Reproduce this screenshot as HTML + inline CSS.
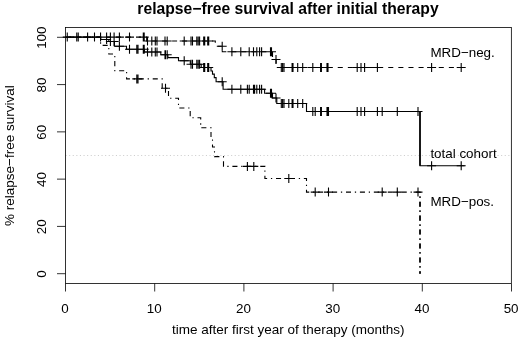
<!DOCTYPE html>
<html><head><meta charset="utf-8"><title>relapse-free survival after initial therapy</title>
<style>
html,body{margin:0;padding:0;background:#fff;}
body{width:520px;height:340px;overflow:hidden;font-family:"Liberation Sans",sans-serif;}
svg{display:block;will-change:transform;}
</style></head><body>
<svg width="520" height="340" viewBox="0 0 520 340">
<rect x="0" y="0" width="520" height="340" fill="#fff"/>
<path d="M65.5,155.5H511.5" stroke="#cfcfcf" stroke-width="1.2" stroke-dasharray="1.1,2.5" fill="none"/>
<rect x="65.55" y="27.55" width="445.8" height="255.85" fill="none" stroke="#000" stroke-width="0.8"/>
<path d="M65.5,283.5v8M154.7,283.5v8M243.9,283.5v8M333.1,283.5v8M422.3,283.5v8M511.5,283.5v8M65.5,273.7h-8.5M65.5,226.42h-8.5M65.5,179.14h-8.5M65.5,131.85999999999999h-8.5M65.5,84.57999999999998h-8.5M65.5,37.30000000000001h-8.5" stroke="#000" stroke-width="0.8" fill="none"/>
<path d="M65.5,37.1H146.7V41.0H215.3V46.3H222.3V51.75H272.5" stroke="#000" stroke-width="1.1" fill="none" stroke-dasharray="5,5" stroke-dashoffset="9.5"/>
<path d="M272.5,51.75V59.5H276.1V67.5H461.2" stroke="#000" stroke-width="1.1" fill="none" stroke-dasharray="5.05,5.05" stroke-dashoffset="9.9"/>
<path d="M65.5,37.1H100.6V45.4H108.8V54.0H114.8V70.7H126.6V78.9H162.2V88.3H168.5V98.2H178.5V108.0H190.2V117.7H200.7V127.8H211.0V137.5H212.5V147.0H214.5V156.6H223.5V166.4H264.9V178.5H306.5V192.1H420.0V273.7" stroke="#000" stroke-width="1.1" fill="none" stroke-dasharray="1.27,3.80,5.06,3.80" stroke-dashoffset="1.42"/>
<path d="M65.5,37.1H100.7V39.5H108.8V41.5H114.4V46.3H126.5V49.3H144.4V52.0H160.8V54.8H167.9V57.6H178.5V60.8H190.3V64.2H201.2V67.5H211.0V71.0H212.5V74.1H214.3V77.6H216.1V81.8H223.1V89.2H264.6V93.3H272.5V98H276.8V103.5H306.5V111.5H420.0V165.8H464.6" stroke="#000" stroke-width="1.1" fill="none"/>
<path d="M420,111.5V165.8" stroke="#000" stroke-width="1.55" fill="none"/>
<path d="M420,192.1V273.7" stroke="#000" stroke-width="1.55" fill="none" stroke-dasharray="1.27,3.80,5.06,3.80" stroke-dashoffset="9.44"/>
<path d="M62.75,37.1h9.0M67.25,32.60v9.0M72.25,37.1h9.0M76.75,32.60v9.0M73.75,37.1h9.0M78.25,32.60v9.0M83.10,37.1h9.0M87.6,32.60v9.0M90.00,37.1h9.0M94.5,32.60v9.0M96.05,37.1h9.0M100.55,32.60v9.0M102.10,37.1h9.0M106.6,32.60v9.0M105.90,37.1h9.0M110.4,32.60v9.0M109.60,37.1h9.0M114.1,32.60v9.0M114.90,37.1h9.0M119.4,32.60v9.0M125.00,37.1h9.0M129.5,32.60v9.0M138.80,37.1h9.0M143.3,32.60v9.0M139.70,37.1h9.0M144.2,32.60v9.0M143.00,41.0h9.0M147.5,36.50v9.0M147.30,41.0h9.0M151.8,36.50v9.0M150.80,41.0h9.0M155.3,36.50v9.0M152.50,41.0h9.0M157,36.50v9.0M160.50,41.0h9.0M165.0,36.50v9.0M162.70,41.0h9.0M167.2,36.50v9.0M179.70,41.0h9.0M184.2,36.50v9.0M186.50,41.0h9.0M191.0,36.50v9.0M188.00,41.0h9.0M192.5,36.50v9.0M192.30,41.0h9.0M196.8,36.50v9.0M193.70,41.0h9.0M198.2,36.50v9.0M195.10,41.0h9.0M199.6,36.50v9.0M199.20,41.0h9.0M203.7,36.50v9.0M200.20,41.0h9.0M204.7,36.50v9.0M203.20,41.0h9.0M207.7,36.50v9.0M204.20,41.0h9.0M208.7,36.50v9.0M217.70,46.3h9.0M222.2,41.80v9.0M227.40,51.75h9.0M231.9,47.25v9.0M236.30,51.75h9.0M240.8,47.25v9.0M244.70,51.75h9.0M249.2,47.25v9.0M249.00,51.75h9.0M253.5,47.25v9.0M252.30,51.75h9.0M256.8,47.25v9.0M255.10,51.75h9.0M259.6,47.25v9.0M257.10,51.75h9.0M261.6,47.25v9.0M266.00,51.75h9.0M270.5,47.25v9.0M267.00,51.75h9.0M271.5,47.25v9.0M271.50,59.5h9.0M276.0,55.00v9.0M276.80,67.5h9.0M281.3,63.00v9.0M278.10,67.5h9.0M282.6,63.00v9.0M279.50,67.5h9.0M284,63.00v9.0M287.60,67.5h9.0M292.1,63.00v9.0M288.50,67.5h9.0M293,63.00v9.0M293.20,67.5h9.0M297.7,63.00v9.0M298.20,67.5h9.0M302.7,63.00v9.0M308.30,67.5h9.0M312.8,63.00v9.0M316.10,67.5h9.0M320.6,63.00v9.0M316.90,67.5h9.0M321.4,63.00v9.0M322.50,67.5h9.0M327,63.00v9.0M323.50,67.5h9.0M328,63.00v9.0M352.70,67.5h9.0M357.2,63.00v9.0M356.50,67.5h9.0M361,63.00v9.0M360.10,67.5h9.0M364.6,63.00v9.0M372.90,67.5h9.0M377.4,63.00v9.0M427.10,67.5h9.0M431.6,63.00v9.0M456.70,67.5h9.0M461.2,63.00v9.0M132.30,78.9h9.0M136.8,74.40v9.0M133.50,78.9h9.0M138.0,74.40v9.0M161.00,88.3h9.0M165.5,83.80v9.0M242.90,166.4h9.0M247.4,161.90v9.0M249.30,166.4h9.0M253.8,161.90v9.0M284.30,178.5h9.0M288.8,174.00v9.0M310.70,192.1h9.0M315.2,187.60v9.0M324.00,192.1h9.0M328.5,187.60v9.0M377.70,192.1h9.0M382.2,187.60v9.0M392.80,192.1h9.0M397.3,187.60v9.0M413.50,192.1h9.0M418,187.60v9.0M62.75,37.1h9.0M67.25,32.60v9.0M72.25,37.1h9.0M76.75,32.60v9.0M73.75,37.1h9.0M78.25,32.60v9.0M83.10,37.1h9.0M87.6,32.60v9.0M90.00,37.1h9.0M94.5,32.60v9.0M96.05,37.1h9.0M100.55,32.60v9.0M102.10,39.5h9.0M106.6,35.00v9.0M105.90,41.5h9.0M110.4,37.00v9.0M109.60,41.5h9.0M114.1,37.00v9.0M114.90,46.3h9.0M119.4,41.80v9.0M125.00,49.3h9.0M129.5,44.80v9.0M132.30,49.3h9.0M136.8,44.80v9.0M133.50,49.3h9.0M138.0,44.80v9.0M138.80,49.3h9.0M143.3,44.80v9.0M139.70,49.3h9.0M144.2,44.80v9.0M143.00,52.0h9.0M147.5,47.50v9.0M147.30,52.0h9.0M151.8,47.50v9.0M150.80,52.0h9.0M155.3,47.50v9.0M152.50,52.0h9.0M157,47.50v9.0M160.50,54.8h9.0M165.0,50.30v9.0M161.00,54.8h9.0M165.5,50.30v9.0M162.70,54.8h9.0M167.2,50.30v9.0M179.70,60.8h9.0M184.2,56.30v9.0M186.50,64.2h9.0M191.0,59.70v9.0M188.00,64.2h9.0M192.5,59.70v9.0M192.30,64.2h9.0M196.8,59.70v9.0M193.70,64.2h9.0M198.2,59.70v9.0M195.10,64.2h9.0M199.6,59.70v9.0M199.20,67.5h9.0M203.7,63.00v9.0M200.20,67.5h9.0M204.7,63.00v9.0M203.20,67.5h9.0M207.7,63.00v9.0M204.20,67.5h9.0M208.7,63.00v9.0M217.70,81.8h9.0M222.2,77.30v9.0M227.40,89.2h9.0M231.9,84.70v9.0M236.30,89.2h9.0M240.8,84.70v9.0M242.90,89.2h9.0M247.4,84.70v9.0M244.70,89.2h9.0M249.2,84.70v9.0M249.00,89.2h9.0M253.5,84.70v9.0M249.30,89.2h9.0M253.8,84.70v9.0M250.10,89.2h9.0M254.6,84.70v9.0M252.30,89.2h9.0M256.8,84.70v9.0M255.10,89.2h9.0M259.6,84.70v9.0M257.10,89.2h9.0M261.6,84.70v9.0M266.00,93.3h9.0M270.5,88.80v9.0M267.00,93.3h9.0M271.5,88.80v9.0M271.50,98h9.0M276.0,93.50v9.0M276.80,103.5h9.0M281.3,99.00v9.0M278.10,103.5h9.0M282.6,99.00v9.0M279.50,103.5h9.0M284,99.00v9.0M284.30,103.5h9.0M288.8,99.00v9.0M287.60,103.5h9.0M292.1,99.00v9.0M288.50,103.5h9.0M293,99.00v9.0M293.20,103.5h9.0M297.7,99.00v9.0M298.20,103.5h9.0M302.7,99.00v9.0M308.30,111.5h9.0M312.8,107.00v9.0M310.70,111.5h9.0M315.2,107.00v9.0M316.10,111.5h9.0M320.6,107.00v9.0M316.90,111.5h9.0M321.4,107.00v9.0M322.50,111.5h9.0M327,107.00v9.0M323.50,111.5h9.0M328,107.00v9.0M324.00,111.5h9.0M328.5,107.00v9.0M352.70,111.5h9.0M357.2,107.00v9.0M356.50,111.5h9.0M361,107.00v9.0M360.10,111.5h9.0M364.6,107.00v9.0M372.90,111.5h9.0M377.4,107.00v9.0M377.70,111.5h9.0M382.2,107.00v9.0M392.80,111.5h9.0M397.3,107.00v9.0M413.50,111.5h9.0M418,107.00v9.0M427.10,165.8h9.0M431.6,161.30v9.0M456.70,165.8h9.0M461.2,161.30v9.0" stroke="#000" stroke-width="1.1" fill="none"/>
<text x="288.0" y="14.4" text-anchor="middle" font-size="15.7" font-weight="bold" font-family="Liberation Sans, sans-serif">relapse−free survival after initial therapy</text>
<text x="288.2" y="334.3" text-anchor="middle" font-size="13.5" font-family="Liberation Sans, sans-serif">time after first year of therapy (months)</text>
<text transform="translate(13.9,155.6) rotate(-90)" text-anchor="middle" font-size="13.5" font-family="Liberation Sans, sans-serif">% relapse−free survival</text>
<text x="65.1" y="312.5" text-anchor="middle" font-size="13.4" font-family="Liberation Sans, sans-serif">0</text>
<text x="154.3" y="312.5" text-anchor="middle" font-size="13.4" font-family="Liberation Sans, sans-serif">10</text>
<text x="243.5" y="312.5" text-anchor="middle" font-size="13.4" font-family="Liberation Sans, sans-serif">20</text>
<text x="332.7" y="312.5" text-anchor="middle" font-size="13.4" font-family="Liberation Sans, sans-serif">30</text>
<text x="421.9" y="312.5" text-anchor="middle" font-size="13.4" font-family="Liberation Sans, sans-serif">40</text>
<text x="511.1" y="312.5" text-anchor="middle" font-size="13.4" font-family="Liberation Sans, sans-serif">50</text>
<text transform="translate(46.0,274.1) rotate(-90)" text-anchor="middle" font-size="13.4" font-family="Liberation Sans, sans-serif">0</text>
<text transform="translate(46.0,226.8) rotate(-90)" text-anchor="middle" font-size="13.4" font-family="Liberation Sans, sans-serif">20</text>
<text transform="translate(46.0,179.5) rotate(-90)" text-anchor="middle" font-size="13.4" font-family="Liberation Sans, sans-serif">40</text>
<text transform="translate(46.0,132.3) rotate(-90)" text-anchor="middle" font-size="13.4" font-family="Liberation Sans, sans-serif">60</text>
<text transform="translate(46.0,85.0) rotate(-90)" text-anchor="middle" font-size="13.4" font-family="Liberation Sans, sans-serif">80</text>
<text transform="translate(46.0,37.7) rotate(-90)" text-anchor="middle" font-size="13.4" font-family="Liberation Sans, sans-serif">100</text>
<text x="430.4" y="56.5" font-size="13.4" font-family="Liberation Sans, sans-serif">MRD−neg.</text>
<text x="430.4" y="158.3" font-size="13.4" font-family="Liberation Sans, sans-serif">total cohort</text>
<text x="430.4" y="206" font-size="13.4" font-family="Liberation Sans, sans-serif">MRD−pos.</text>
</svg>
</body></html>
